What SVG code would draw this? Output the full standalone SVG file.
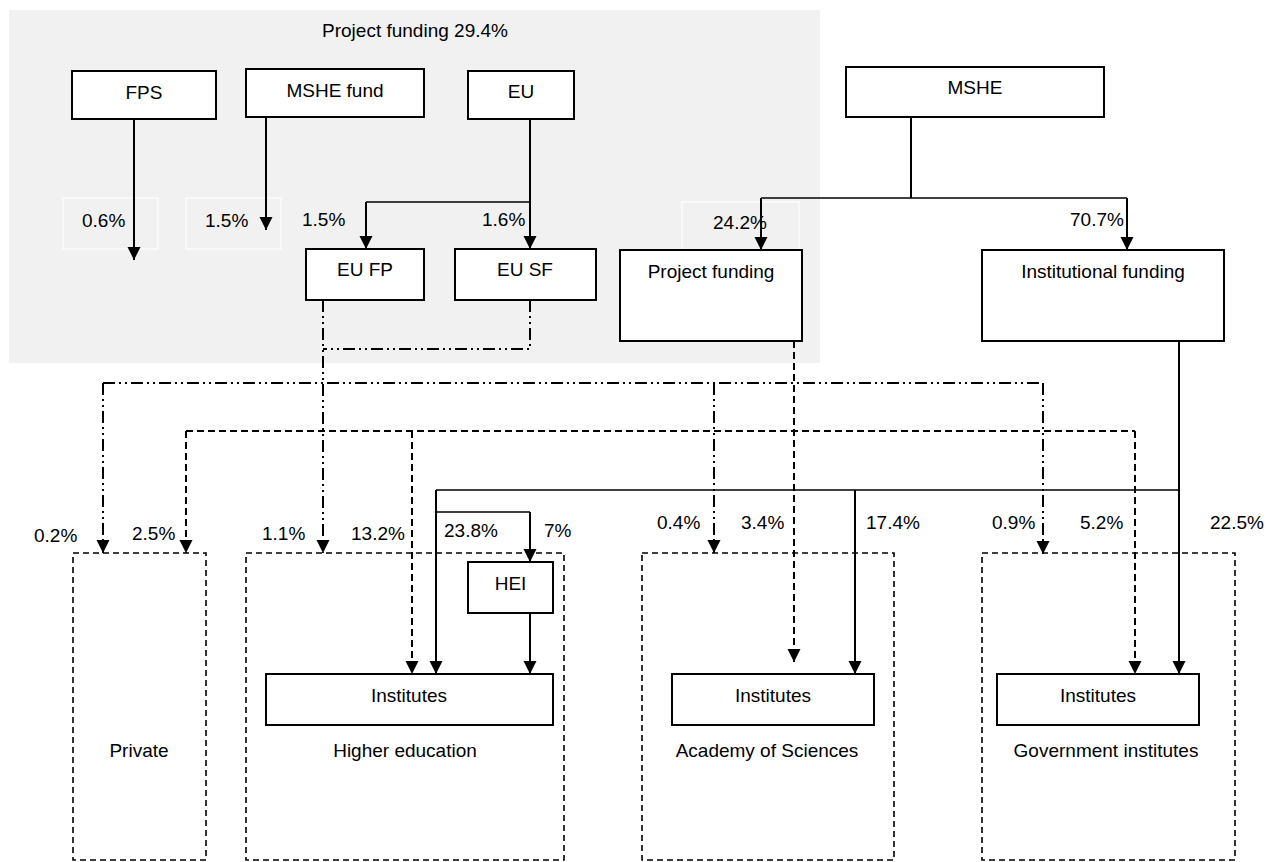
<svg xmlns="http://www.w3.org/2000/svg" width="1278" height="862" viewBox="0 0 1278 862">
<defs>
<marker id="ah" markerUnits="userSpaceOnUse" markerWidth="14" markerHeight="14" refX="13" refY="6.5" orient="auto" viewBox="0 0 14 13">
<path d="M0,0 L13,6.5 L0,13 z" fill="#000"/>
</marker>
<style>
text{font-family:"Liberation Sans",Arial,sans-serif;font-size:19px;fill:#000}
.c{text-anchor:middle}
.box{fill:#fff;stroke:#000;stroke-width:2}
.grp{fill:#fff;stroke:#000;stroke-width:1.6;stroke-dasharray:6 4}
.lbl{fill:none;stroke:#fff;stroke-width:1.2}
.s{fill:none;stroke:#000;stroke-width:2}
.h{fill:none;stroke:#000;stroke-width:1.6}
.d{fill:none;stroke:#000;stroke-width:2;stroke-dasharray:7 4}
.dd{fill:none;stroke:#000;stroke-width:2;stroke-dasharray:12 4 2 4 2 4}
.a{marker-end:url(#ah)}
</style>
</defs>
<rect x="0" y="0" width="1278" height="862" fill="#fff"/>
<rect x="9" y="10" width="811" height="353" fill="#f1f1f1"/>
<text class="c" x="415" y="37">Project funding 29.4%</text>

<g id="private"><rect class="grp" x="73" y="553" width="133" height="307"/><text class="c" x="139" y="757">Private</text></g>
<g id="higher-education"><rect class="grp" x="246" y="553" width="318" height="307"/><text class="c" x="405" y="757">Higher education</text></g>
<g id="academy"><rect class="grp" x="642" y="553" width="252" height="307"/><text class="c" x="767" y="757">Academy of Sciences</text></g>
<g id="government"><rect class="grp" x="982" y="553" width="253" height="307"/><text class="c" x="1106" y="757">Government institutes</text></g>

<g id="lbl-boxes">
<rect class="lbl" x="63" y="198" width="95" height="51"/>
<rect class="lbl" x="186" y="198" width="95" height="51"/>
<rect class="lbl" x="682" y="202" width="117" height="48"/>
</g>

<g id="connectors">
<path class="s a" d="M134,119 V260"/>
<path class="s a" d="M266,117 V230"/>
<path class="s a" d="M530,119 V249"/>
<path class="h" d="M366,202 H530"/>
<path class="s a" d="M366,202 V249"/>
<path class="s" d="M911,117 V198"/>
<path class="h" d="M761,198 H1127"/>
<path class="s a" d="M761,198 V250"/>
<path class="s a" d="M1127,198 V250"/>
<path class="dd a" d="M323,300 V553"/>
<path class="dd" d="M530,300 V349 H323"/>
<path class="dd" d="M103,383 H1043"/>
<path class="dd a" d="M103,383 V553"/>
<path class="dd a" d="M714,383 V553"/>
<path class="dd a" d="M1043,383 V554"/>
<path class="d a" d="M794,341 V662"/>
<path class="d" d="M186,431 H1135"/>
<path class="d a" d="M186,431 V553"/>
<path class="d a" d="M412,431 V674"/>
<path class="d a" d="M1135,431 V674"/>
<path class="s a" d="M1179,341 V674"/>
<path class="h" d="M436,490 H1179"/>
<path class="s a" d="M436,490 V674"/>
<path class="s a" d="M855,490 V674"/>
<path class="h" d="M436,512 H530"/>
<path class="s a" d="M530,512 V562"/>
<path class="s a" d="M530,613 V674"/>
</g>

<g id="fps"><rect class="box" x="72" y="71" width="144" height="48"/><text class="c" x="144" y="99">FPS</text></g>
<g id="mshe-fund"><rect class="box" x="246" y="69" width="178" height="48"/><text class="c" x="335" y="97">MSHE fund</text></g>
<g id="eu"><rect class="box" x="468" y="71" width="106" height="48"/><text class="c" x="521" y="98">EU</text></g>
<g id="mshe"><rect class="box" x="846" y="67" width="258" height="50"/><text class="c" x="975" y="94">MSHE</text></g>
<g id="eu-fp"><rect class="box" x="306" y="249" width="118" height="51"/><text class="c" x="365" y="276">EU FP</text></g>
<g id="eu-sf"><rect class="box" x="455" y="249" width="141" height="51"/><text class="c" x="525" y="276">EU SF</text></g>
<g id="project-funding"><rect class="box" x="620" y="250" width="182" height="91"/><text class="c" x="711" y="278">Project funding</text></g>
<g id="institutional-funding"><rect class="box" x="982" y="250" width="242" height="91"/><text class="c" x="1103" y="278">Institutional funding</text></g>
<g id="hei"><rect class="box" x="468" y="562" width="85" height="51"/><text class="c" x="510.5" y="590">HEI</text></g>
<g id="inst-he"><rect class="box" x="266" y="674" width="287" height="51"/><text class="c" x="409" y="702">Institutes</text></g>
<g id="inst-acad"><rect class="box" x="672" y="674" width="202" height="51"/><text class="c" x="773" y="702">Institutes</text></g>
<g id="inst-gov"><rect class="box" x="997" y="674" width="202" height="51"/><text class="c" x="1098" y="702">Institutes</text></g>

<g id="labels">
<text x="82" y="227">0.6%</text>
<text x="205" y="227">1.5%</text>
<text x="302" y="226">1.5%</text>
<text x="482" y="226">1.6%</text>
<text x="713" y="229">24.2%</text>
<text x="1070" y="226">70.7%</text>
<text x="34" y="542">0.2%</text>
<text x="132" y="540">2.5%</text>
<text x="262" y="540">1.1%</text>
<text x="351" y="540">13.2%</text>
<text x="444" y="537">23.8%</text>
<text x="544" y="537">7%</text>
<text x="657" y="529">0.4%</text>
<text x="741" y="529">3.4%</text>
<text x="866" y="529">17.4%</text>
<text x="992" y="529">0.9%</text>
<text x="1080" y="529">5.2%</text>
<text x="1210" y="529">22.5%</text>
</g>
</svg>
